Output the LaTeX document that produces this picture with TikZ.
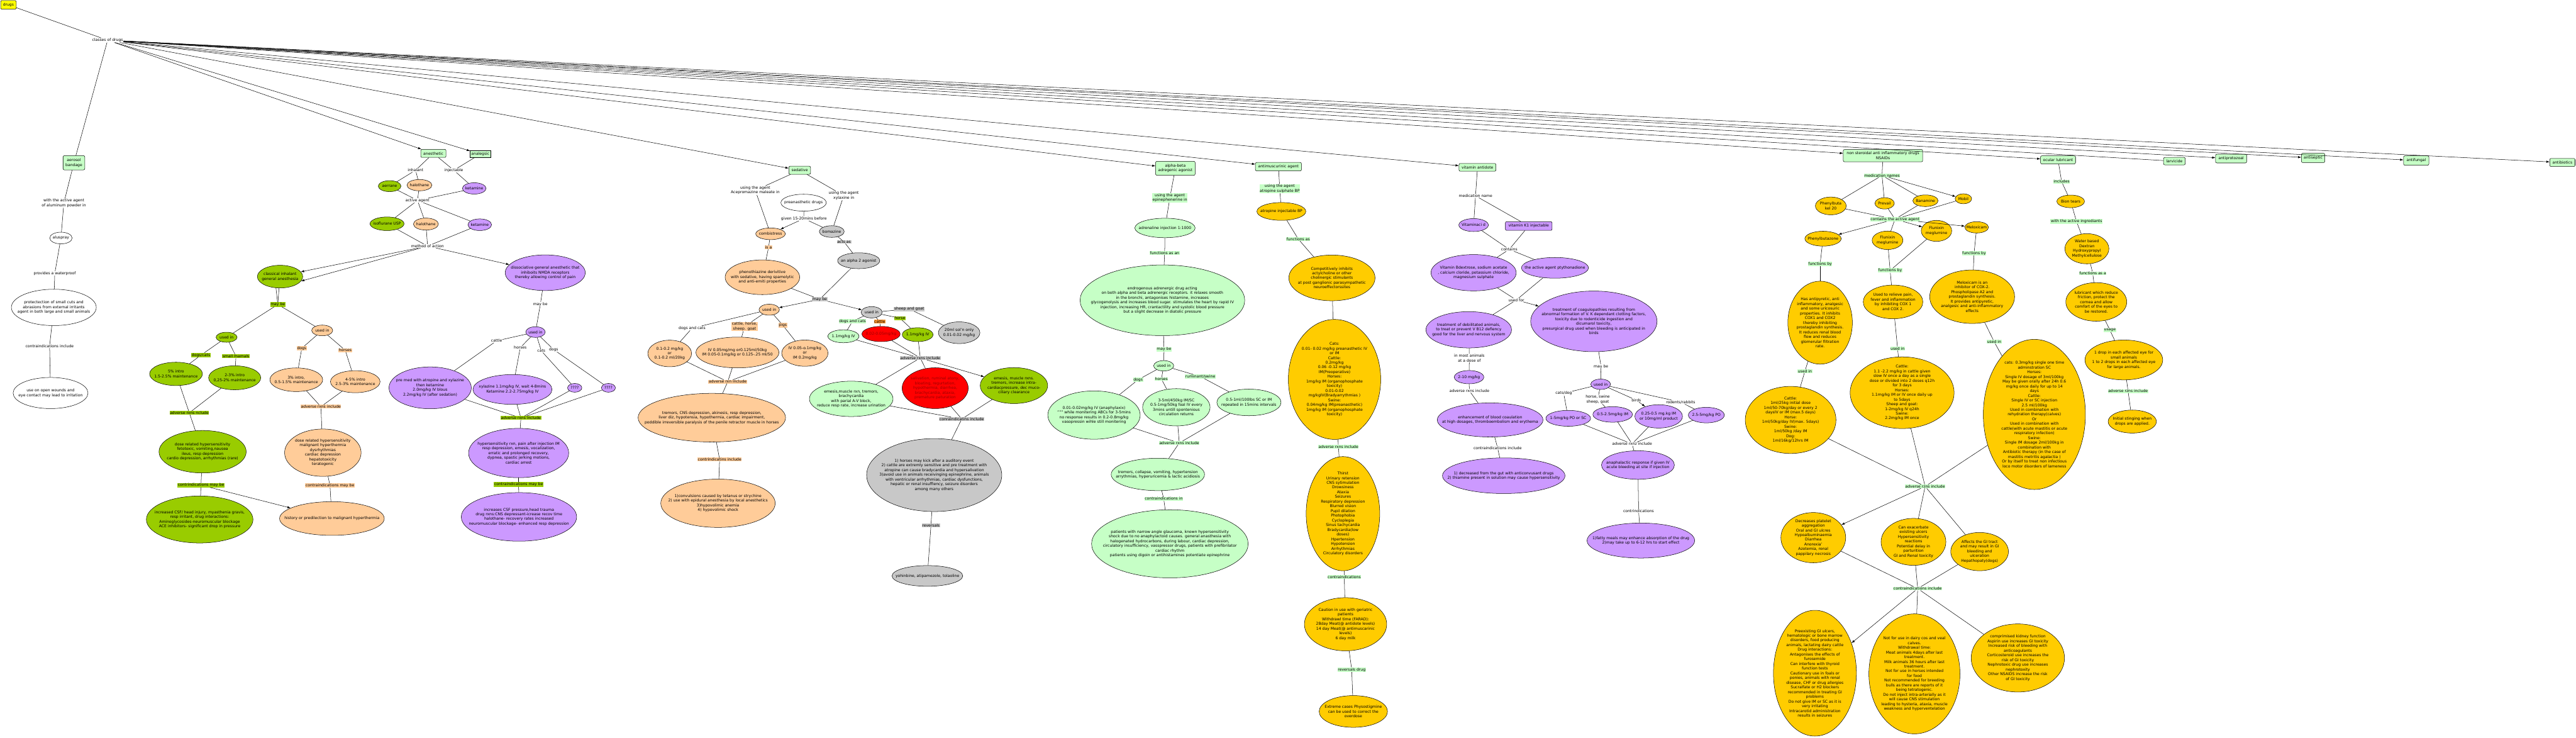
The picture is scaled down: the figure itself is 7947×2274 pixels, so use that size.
\documentclass[tikz,border=0pt]{standalone}
\usepackage{fontspec}
\setmainfont{DejaVu Sans}
\usetikzlibrary{shapes.geometric,arrows.meta}
\definecolor{lg}{HTML}{C6FFC6}
\definecolor{olv}{HTML}{99CC00}
\definecolor{pch}{HTML}{FFCC99}
\definecolor{prp}{HTML}{CC99FF}
\definecolor{gry}{HTML}{C8C8C8}
\definecolor{gld}{HTML}{FFCC00}
\definecolor{yel}{HTML}{FFFF00}
\definecolor{rd}{HTML}{FF0000}
\definecolor{dred}{HTML}{990000}
\definecolor{dorg}{HTML}{FF9933}
\tikzset{
 ln/.style={line width=1pt},
 arr/.style={ln,-{Latex[length=10pt,width=7pt]}},
 ell/.style={ellipse,draw,line width=1pt,inner sep=0pt},
 etxt/.style={align=center,inner sep=0pt},
 fW/.style={fill=white}, fG/.style={fill=olv}, fO/.style={fill=pch}, fP/.style={fill=prp},
 fL/.style={fill=lg}, fY/.style={fill=gld}, fR/.style={fill=rd}, fGr/.style={fill=gry},
 lab/.style={inner sep=1.2pt,align=center},
 lbG/.style={lab,fill=olv}, lbO/.style={lab,fill=pch}, lbGr/.style={lab,fill=gry},
 lbL/.style={lab,fill=lg}, lbD/.style={lab,fill=dorg},
 box/.style={draw,line width=1pt,rounded corners=4pt,fill=lg,inner sep=2pt,align=center},
}
\newcommand\mkell[7][]{%
 \node[ell,#2,minimum width=#5pt,minimum height=#6pt] (#3) at (#4) {};
 \node[etxt,#1] (#3t) at (#3.center) {#7};}
\begin{document}
\begin{tikzpicture}[x=1pt,y=-1pt,font=\fontsize{11.8}{14.5}\selectfont]
\fill[white] (0,0) rectangle (7947,2274);
\useasboundingbox (0,0) rectangle (7947,2274);

% ---------- top ----------
\node[box,fill=yel,minimum width=48pt,minimum height=27pt] (drugs) at (26,15) {drugs};
\node[lab] (classes) at (332,124) {classes of drugs};

% ---------- aerosol ----------
\node[box,minimum width=67pt,minimum height=44pt] (aerosol) at (228,502) {aerosol\\bandage};
\node[lab] (Lalu) at (197,626) {with the active agent\\of aluminum powder in};
\mkell{fW}{aluspray}{188,734}{69}{36}{aluspray}
\node[lab] (Lwp) at (169,843) {provides a waterproof};
\mkell{fW}{protect}{166,948}{262}{112}{protectection of small cuts and\\abrasions from external irritants\\agent in both large and small animals}
\node[lab] (Lci0) at (153,1067) {contraindications include};
\mkell{fW}{openw}{156,1212}{231}{96}{use on open wounds and\\eye contact may lead to irritation}

% ---------- anesthetic ----------
\node[box,minimum width=78pt,minimum height=25pt] (anest) at (1337,473) {anesthetic};
\node[box,rounded corners=0pt,minimum width=63pt,minimum height=20pt] (analg) at (1482,475) {analegsic};
\node[lab] (Linh) at (1282,525) {inhalant};
\node[lab] (Linj) at (1400,525) {injectable};
\mkell{fG}{aerrane}{1202,574}{70}{34}{aerrane}
\mkell{fO}{halo1}{1294,571}{77}{35}{halothane}
\mkell{fP}{keta1}{1463,581}{73}{35}{ketamine}
\node[lab] (Lact) at (1288,618) {active agent};
\mkell{fG}{isoflu}{1194,690}{105}{42}{isoflurane USP}
\mkell{fO}{halo2}{1314,691}{77}{37}{halothane}
\mkell{fP}{keta2}{1480,693}{73}{36}{ketamine}
\node[lab] (Lmoa) at (1319,759) {method of action};
\mkell{fG}{classical}{864,853}{140}{70}{classical inhalant\\general anesthesia}
\mkell{fP}{dissoc}{1682,841}{247}{110}{dissociative general anesthetic that\\inhiboits NMDA receptors\\thereby allowing control of pain}
\node[lbG] (Lmb1) at (857,939) {may be};
\mkell{fG}{uig}{699,1040}{65}{31}{used in}
\mkell{fO}{uio}{994,1019}{65}{33}{used in}
\node[lbG] (Ldc1) at (620,1095) {dogs/cats};
\node[lbG] (Lsm) at (728,1099) {small mamals};
\node[lbO] (Ldg1) at (931,1074) {dogs};
\node[lbO] (Lhr1) at (1065,1080) {horses};
\mkell{fG}{e5}{543,1153}{163}{72}{5\% intro\\1.5-2.5\% maintenance}
\mkell{fG}{e23}{724,1165}{161}{74}{2-3\% intro\\0,25-2\% maintenance}
\mkell{fO}{e3}{914,1171}{163}{73}{3\% intro,\\0.5-1.5\% maintenance}
\mkell{fO}{e45}{1096,1177}{153}{68}{4-5\% intro\\2.5-3\% maintenance}
\node[lbG] (Ladg) at (584,1273) {adverse rxns nclude};
\node[lbO] (Lado) at (990,1254) {adverse rxns include};
\mkell{fG}{drg}{625,1393}{269}{131}{dose related hypersensitivity\\fetotoxic, vomiting,nausea\\ileus, resp depression\\cardio depression, arrhythmias (rare)}
\mkell{fO}{dro}{996,1396}{236}{146}{dose related hypersensitivity\\malignant hyperthermia\\dysrhythmias\\cardiac depression\\hepatotoxicity\\teratogenic}
\node[lbG] (Lcig) at (620,1496) {contrindications may be};
\node[lbO] (Lcio) at (1018,1497) {contraindications may be};
\mkell{fG}{incr}{616,1602}{329}{145}{increased CSF/ head injury, myasthenia gravis,\\resp irritant, drug interactions:\\Aminoglycosides-neuromuscular blockage\\ACE inhibitors- significant drop in pressure}
\mkell{fO}{hist}{1024,1599}{323}{104}{history or predilection to malignant hyperthermia}

% ---------- ketamine ----------
\node[lab] (Lmbk) at (1667,938) {may be};
\mkell{fP}{uik}{1652,1024}{60}{33}{used in}
\node[lab] (Lct) at (1532,1051) {cattle};
\node[lab] (Lhk) at (1605,1072) {horses};
\node[lab] (Lck) at (1670,1082) {cats};
\node[lab] (Ldk) at (1708,1078) {dogs};
\mkell{fP}{premed}{1327,1196}{254}{129}{pre med with atropine and xylazine\\then ketamine\\2.0mg/kg IV blous\\2.2mg/kg IV (after sedation)}
\mkell{fP}{xyl}{1581,1201}{244}{92}{xylazine 1.1mg/kg IV, wait 4-8mins\\Ketamine 2.2-2.75mg/kg IV}
\mkell{fP}{qa}{1773,1196}{44}{27}{????}
\mkell{fP}{qb}{1877,1196}{43}{27}{????}
\node[lbG] (Ladk) at (1607,1289) {adverse rxns include};
\mkell{fP}{hypk}{1600,1397}{309}{152}{hypersensitivity rxn, pain after injection IM\\resp depression, emesis, vocalization,\\erratic and prolonged recovery,\\dypnea, spastic jerking motions,\\cardiac arrest}
\node[lbG] (Lcik) at (1600,1494) {contraindications may be};
\mkell{fP}{inck}{1601,1594}{356}{150}{increases CSF pressure,head trauma\\drug rxns:CNS depressant-icrease recov time\\halothane- recovery rates increased\\neuromuscular blockage- enhanced resp depression}

% ---------- sedative ----------
\node[box,minimum width=67pt,minimum height=25pt] (sedat) at (2467,525) {sedative};
\node[lab] (Lace) at (2330,587) {using the agent\\Acepromazine maleate in};
\node[lab] (Lxyl) at (2603,603) {using the agent\\xylaxine in};
\mkell{fW}{preanes}{2479,625}{140}{52}{preanasthetic drugs}
\node[lab] (Lgiven) at (2480,674) {given 15-20mins before};
\mkell{fO}{combi}{2377,721}{91}{36}{combistress}
\mkell{fGr}{boma}{2566,714}{77}{36}{bomazine}
\node[lbO] (Lisa) at (2371,763) {is a};
\node[lbGr] (Lacts) at (2604,746) {acts as};
\mkell{fGr}{alphatwo}{2649,804}{130}{49}{an alpha 2 agonist}
\mkell{fO}{pheno}{2352,855}{230}{107}{phenothiazine derivitive\\with sedative, having spamolytic\\and anti-emiti properties}
\node[lbGr] (Lmbs) at (2529,923) {may be};
\mkell{fO}{uiso}{2373,955}{63}{34}{used in}
\mkell{fGr}{uisg}{2689,963}{65}{35}{used in}
\node[lab] (Ldcs) at (2135,1012) {dogs and cats};
\node[lbO] (Lchs) at (2297,1007) {cattle, horse,\\sheep. goat};
\node[lbO] (Lpigs) at (2415,1003) {pigs};
\node[lbL] (Ldcg) at (2630,991) {dogs and cats};
\node[lbD] (Lcatr) at (2714,992) {cattle};
\node[lbG] (Lhol) at (2776,981) {horse};
\node[lbGr] (Lsg) at (2805,953) {sheep and goat};
\mkell{fO}{dzero}{2066,1090}{135}{82}{0.1-0.2 mg/kg\\or\\0.1-0.2 ml/20kg}
\mkell{fO}{ivA}{2275,1087}{256}{95}{IV 0.05mg/mg or0.125ml/50kg\\IM 0.05-0.1mg/kg or 0.125-.25 ml/50}
\mkell{fO}{ivB}{2483,1089}{143}{81}{IV 0.05-o.1mg/kg\\or\\IM 0.2mg/kg}
\mkell{fL}{gelev}{2602,1037}{96}{40}{1.1mg/kg IV}
\mkell[text=dred]{fR}{rzero}{2718,1030}{118}{47}{0.02-0.05mg/kg}
\mkell{fG}{oelev}{2831,1032}{95}{43}{1.1mg/kg IV}
\mkell{fGr}{gtwenty}{2959,1026}{128}{67}{20ml sol'n only\\0.01-0.02 mg/kg}
\node[lbO] (Ladso) at (2245,1177) {adverse rxn include};
\node[lbGr] (Ladsg) at (2839,1104) {adverse rxns include};
\mkell{fO}{trem}{2196,1288}{455}{150}{tremors, CNS depression, akinesis, resp depression,\\liver diz, hypotensia, hypothermia, cardiac impairment,\\poddible irreversible paralysis of the penile retractor muscle in horses}
\mkell{fL}{emlg}{2626,1230}{258}{109}{emesis,muscle rxn, tremors,\\brachycardia\\with parial A-V block,\\reduce resp rate, increase urination}
\mkell[text=dred]{fR}{saliv}{2885,1197}{204}{126}{salivation, ruminal atony,\\bloating, regurtation,\\hypothermia, diarrhea,\\brachycardia, ataxia,\\premature paturation}
\mkell{fG}{emol}{3128,1189}{208}{111}{emesis, muscle rxns.\\tremors, increase intra-\\cardiacpressure, dec muco-\\ciliary clearance}
\node[lbO] (Lcso) at (2220,1417) {contrindicatins include};
\node[lbGr] (Lcsg) at (2967,1292) {conraindicatins include};
\mkell{fO}{conv}{2215,1552}{353}{149}{1)convulsions caused by tetanus or strychine\\2) use with epidural anesthesia by local anesthetics\\3)hypovolimic anemia\\4) hypovolimic shock}
\mkell{fGr}{biggr}{2882,1465}{417}{225}{1) horses may kick after a auditory event\\2) cattle are extremly sensitive and pre treatment with\\atropine can cause bradycardia and hypersalivation\\3)avoid use in animals receivinging epinephrine, animals\\with ventricular arrhythmias, cardiac dysfunctions,\\hepatic or renal insuffiency, seizure disorders\\among many others}
\node[lbGr] (Lrev) at (2872,1620) {reversals};
\mkell{fGr}{yoh}{2861,1776}{218}{64}{yohinbine, atipamezole, tolaoline}

% ---------- epinephrine ----------
\node[box,minimum width=122pt,minimum height=43pt] (alphab) at (3626,519) {alpha-beta\\adregenic agonist};
\node[lbL] (Lepi) at (3609,610) {using the agent\\epinephenerine in};
\mkell{fL}{adren}{3594,703}{186}{60}{adrenaline injection 1:1000}
\node[lbL] (Lfan) at (3593,780) {functions as an};
\mkell{fL}{endro}{3586,926}{508}{218}{endrogenous adrenergic drug acting\\on both alpha and beta adrenergic receptors. it relaxes smooth\\in the bronchi, antagonises histamine, increases\\glycogenolysis and increases blood sugar. stimulates the heart by rapid IV\\injection, increasing HR, crantactility and systolic blood pressure\\but a slight decrease in diatolic pressure}
\node[lbL] (Lmbe) at (3591,1077) {may be};
\mkell{fL}{uie}{3590,1128}{62}{32}{used in}
\node[lbL] (Lde) at (3511,1171) {dogs};
\node[lbL] (Lhe) at (3583,1169) {horses};
\node[lbL] (Lre) at (3703,1161) {ruminant/swine};
\mkell{fL}{dosed}{3375,1280}{285}{149}{0.01-0.02mg/kg IV (anaphylaxix)\\""" while monitering ABCs for 3-5mins\\no response results in 0.2-0.8mg/kg\\vasopressin wihle still monitering}
\mkell{fL}{doseh}{3629,1256}{208}{115}{3-5ml/450kg IM/SC\\0.5-1mg/50kg foal IV every\\3mins untill spontenious\\circulation returns}
\mkell{fL}{doser}{3853,1241}{198}{82}{0.5-1ml/100lbs SC or IM\\repeated in 15mins intervals}
\node[lbL] (Lade) at (3638,1366) {adverse rxns include};
\mkell{fL}{tremc}{3572,1463}{288}{100}{tremors, collapse, vomiting, hypertension\\arrythmias, hyperuricemia \& lactic acidiosis}
\node[lbL] (Lcie) at (3590,1538) {contraindications in};
\mkell{fL}{patients}{3609,1677}{483}{210}{patients with narrow angle glaucoma, known hypersensitivity\\shock due to no anaphylactoid causes. general anasthesia with\\halogenated hydrocarbons, during labour, cardiac depression,\\circulatory insufficiency, vasspressor drugs, patients with prefibrilator\\cardiac rhythm\\patients using digoin or antihistamines potentiate epinephrine}

% ---------- atropine ----------
\node[box,minimum width=142pt,minimum height=26pt] (antim) at (3944,514) {antimuscurinic agent};
\node[lbL] (Latr) at (3948,582) {using the agent\\atropine sulphate BP};
\mkell{fY}{atroinj}{3953,652}{151}{55}{atropine injectable BP}
\node[lbL] (Lfas) at (4005,737) {functions as};
\mkell{fY}{compet}{4109,857}{266}{141}{Competitively inhibits\\actylcholine or other\\cholinergic stimulants\\at post ganglionic parasympathetic\\neuroeffectorssites}
\mkell{fY}{catsd}{4117,1170}{285}{370}{Cats:\\0.01- 0.02 mg/kg preanasthetic IV\\or IM\\Cattle:\\0.2mg/kg\\0.06 -0.12 mg/kg\\IM(Preoperative)\\Horses:\\1mg/kg IM (organophosphate\\toxicity)\\0.01-0.02\\mg/kgIV(Bradyarrythmias )\\Swine:\\0.04mg/kg IM(preanasthetic)\\1mg/kg IM (organophosphate\\toxicity)}
\node[lbL] (Lada) at (4129,1377) {adverse rxns include};
\mkell{fY}{thirst}{4143,1584}{227}{352}{Thirst\\Urinary retension\\CNS sytimulation\\Drowsiness\\Ataxia\\Seizures\\Respiratory depression\\Blurred vision\\Pupil dilation\\Photophobia\\Cycloplegia\\Sinus tachycardia\\Bradycardia(low\\doses)\\Hpertension\\Hypotension\\Arrhythmias\\Circulatory disorders}
\node[lbL] (Lcia) at (4147,1779) {contraindications};
\mkell{fY}{caution}{4151,1925}{254}{164}{Caution in use with geriatric\\patients\\Withdrawl time (FARAD):\\28day Meat(@ antidote levels)\\14 day Meat(@ antimuscarinic\\levels)\\6 day milk}
\node[lbL] (Lrda) at (4170,2065) {reversals drug};
\mkell{fY}{extreme}{4175,2194}{211}{98}{Extreme cases Physostigmine\\can be used to correct the\\overdose}

% ---------- vitamin ----------
\node[box,minimum width=114pt,minimum height=24pt] (vitam) at (4558,516) {vitamin antidote};
\node[lab] (Lmedn) at (4552,604) {medication name};
\mkell{fP}{vitd}{4546,694}{91}{40}{Vitaminaci d}
\node[box,fill=prp,minimum width=144pt,minimum height=27pt] (kone) at (4716,697) {vitamin K1 injectable};
\node[lab] (Lcont) at (4656,769) {contains};
\mkell{fP}{vitb}{4546,841}{263}{112}{Vitamin Bdextrose, sodium acetate\\, calcium cloride, potassium chloride,\\magnesium sulphate}
\mkell{fP}{ptyth}{4797,826}{207}{64}{the active agent ptythonadione}
\node[lab] (Lusf) at (4678,925) {used for};
\mkell{fP}{debil}{4531,1017}{264}{112}{treatment of debilitated animals,\\to treat or prevent V B12 defiency\\good for the liver and nervous system}
\mkell{fP}{coag}{4917,991}{390}{187}{treatment of coagulopathies resulting from\\abnormal formation of V. K dependant clotting factors,\\toxicity due to rodenticide ingestion and\\dicumarol toxicity,\\presurgical drug used when bleeding is anticipated in\\birds}
\node[lab] (Linm) at (4533,1104) {in most animals\\at a dose of};
\mkell{fP}{dtwo}{4532,1163}{91}{41}{2-10 mg/kg}
\node[lab] (Ladv) at (4533,1205) {adverse rxns include};
\mkell{fP}{enh}{4597,1295}{326}{105}{enhancement of blood coaulation\\at high dosages, thromboembolism and erythema}
\node[lab] (Lciv) at (4620,1381) {contraindications include};
\mkell{fP}{decr}{4639,1467}{378}{110}{1) decreased from the gut with anticonvusant drugs\\2) thiamine present in solution may cause hypersensitivity}
\node[lab] (Lmau) at (4939,1129) {mau be};
\mkell{fP}{uiv}{4938,1185}{61}{32}{used in}
\node[lab] (Lcd) at (4824,1213) {cats/dog};
\node[lab] (Lhs) at (4929,1232) {horse, swine\\sheep, goat};
\node[lab] (Lbi) at (5048,1234) {birds};
\node[lab] (Lrr) at (5185,1240) {rodents/rabbits};
\mkell{fP}{vone}{4838,1290}{138}{49}{1-5mg/kg PO or SC}
\mkell{fP}{vhalf}{4975,1278}{122}{48}{0.5-2.5mg/kg IM}
\mkell{fP}{vquar}{5117,1284}{147}{72}{0.25-0.5 mg.kg IM\\or 10mg/ml product}
\mkell{fP}{vfive}{5264,1280}{111}{48}{2.5-5mg/kg PO}
\node[lab] (Ladkone) at (5035,1369) {adverse rxnz include};
\mkell{fP}{anaph}{5053,1434}{225}{88}{anaphalactic response if given IV\\acute bleeding at site if injection}
\node[lab] (Lcikone) at (5055,1576) {contrindications};
\mkell{fP}{fatty}{5062,1667}{332}{108}{1)fatty meals may enhance absorption of the drug\\2)may take up to 6-12 hrs to start effect}

% ---------- NSAIDs ----------
\node[box,minimum width=245pt,minimum height=38pt] (nsaid) at (5809,480) {non steroidal anti inflammatory drugs\\NSAIDs};
\node[lbL] (Lmn) at (5806,541) {medication names};
\mkell{fY}{pk}{5648,635}{95}{55}{Phenylbuta\\kel 20}
\mkell{fY}{prev}{5814,627}{60}{35}{Prevail}
\mkell{fY}{bana}{5940,619}{78}{36}{Banamine}
\mkell{fY}{mobil}{6057,613}{51}{31}{Mobil}
\node[lbL] (Lcta) at (5846,676) {contains the active agent};
\mkell{fY}{pbz}{5624,736}{112}{46}{Phenylbutazone}
\mkell{fY}{fluA}{5823,741}{95}{57}{Flunixin\\meglumine}
\mkell{fY}{fluB}{5974,712}{94}{65}{Flunixin\\meglumine}
\mkell{fY}{melo}{6098,701}{73}{35}{Meloxicam}
\node[lbL] (Lfba) at (5615,814) {functions by};
\node[lbL] (Lfbb) at (5831,834) {functions by};
\node[lbL] (Lfbc) at (6090,781) {functions by};
\mkell{fY}{hasa}{5615,995}{199}{256}{Has antipyretic, anti\\inflammatory, analgesic\\and some uricosuric\\properties. It inhibits\\COX1 and COX2\\thereby inhibiting\\prostaglandin synthesis.\\It reduces renal blood\\flow and reduces\\glomerular filtration\\rate.}
\mkell{fY}{usedto}{5840,931}{184}{104}{Used to relieve pain,\\fever and inflammation\\by inhibiting COX 1\\and COX 2.}
\mkell{fY}{melin}{6084,915}{262}{165}{Meloxicam is an\\inhibitor of COX-2.\\Phospholipase A2 and\\prostaglandin synthesis.\\It provides antipyretic,\\analgesic and anti-inflammatory\\effects}
\node[lbL] (Luia) at (5568,1145) {used in};
\node[lbL] (Luib) at (5854,1075) {used in};
\node[lbL] (Luic) at (6152,1054) {used in};
\mkell{fY}{catA}{5524,1295}{280}{207}{Cattle:\\1ml/25kg initial dose\\1ml/50-70kg/day or every 2\\daysIV or IM (max.5 days)\\Horse:\\1ml/50kg/day IV(max. 5days)\\Swine:\\1ml/50kg /day IM\\Dog:\\1ml/16kg/12hrs IM}
\mkell{fY}{catB}{5868,1211}{321}{221}{Cattle:\\1.1 -2.2 mg/kg in cattle given\\slow IV once a day as a single\\dose or divided into 2 doses q12h\\for 3 days\\Horses:\\1.1mg/kg IM or IV once daily up\\to 5days\\Sheep and goat:\\1-2mg/kg IV q24h\\Swine:\\2.2mg/kg IM once}
\mkell{fY}{melod}{6276,1278}{315}{463}{cats: 0.3mg/kg single one time\\adminstration SC\\Horses:\\Single IV dosage of 3ml/100kg\\May be given orally after 24h 0.6\\mg/kg once daily for up to 14\\days\\Cattle:\\Single IV or SC injection\\2.5 ml/100kg\\Used in combination with\\rehydration therapy(calves)\\Or\\Used in combination with\\cattle(with acute mastitis or acute\\respiratory infection)\\Swine:\\Single IM dosage 2ml/100kg in\\combination with\\Antibiotic therapy (in the case of\\mastitis metritis agalactia )\\Or by itself to treat non infectious\\loco motor disorders of lameness}
\node[lbL] (Ladn) at (5939,1500) {adverse rzns include};
\mkell{fY}{decp}{5594,1658}{200}{155}{Decreases platelet\\aggregation\\Oral and GI ulcres\\Hypoalbuminaemia\\Diarrhea\\Anorexia'\\Azotemia, renal\\pappilary necrosis}
\mkell{fY}{canex}{5903,1671}{200}{145}{Can exacerbate\\existing ulcers\\Hypersensitivity\\reactions\\Potential delay in\\parturition\\GI and Renal toxicity}
\mkell{fY}{affe}{6107,1701}{178}{118}{Affects the GI tract\\and may result in GI\\bleeding and\\ulceration\\Hepathopaty(dogs)}
\node[lbL] (Lcin) at (5916,1815) {contraindications include};
\mkell{fY}{preex}{5599,2076}{256}{388}{Preexisting GI ulcers,\\hematologic or bone marrow\\disorders, food producing\\animals, lactating dairy cattle\\Drug interactions:\\Antagonises the effects of\\furosemide\\Can interfere with thyroid\\function tests\\Cautionary use in foals or\\ponies, animals with renal\\disease, CHF or drug allergies\\Sucralfate or H2 blockers\\recommended in treating GI\\problems\\Do not give IM or SC as it is\\very irritating\\Intracarotid administration\\results in seizures}
\mkell{fY}{notf}{5906,2078}{281}{370}{Not for use in dairy cos and veal\\calves.\\Withdrawal time:\\Meat animals 4days after last\\treatment.\\Milk animals 36 hours after last\\treatment.\\Not for use in horses intended\\for food\\Not recommended for breeding\\bulls as there are reports of it\\being tetratogenic.\\Do not inject intra-arterially as it\\will cause CNS stimulation\\leading to hysteria, ataxia, muscle\\weakness and hyperventelation}
\mkell{fY}{compr}{6225,2029}{288}{210}{comprimised kidney function\\Aspirin use increases GI toxicity\\Increased risk of bleeding with\\anticoagulants\\Corticosteroid use increases the\\risk of GI toxicity\\Nephrotoxic drug use increases\\nephrotoxity\\Other NSAIDS increase the risk\\of GI toxicity}

% ---------- ocular & other classes ----------
\node[box,minimum width=108pt,minimum height=25pt] (ocul) at (6349,493) {ocular lubricant};
\node[box,minimum width=67pt,minimum height=23pt] (larv) at (6708,497) {larvicide};
\node[box,minimum width=96pt,minimum height=27pt] (aprot) at (6883,489) {antiprotozoal};
\node[box,minimum width=72pt,minimum height=29pt] (asep) at (7136,487) {antiseptic};
\node[box,minimum width=78pt,minimum height=29pt] (afung) at (7454,495) {antifungal};
\node[box,minimum width=78pt,minimum height=25pt] (abio) at (7905,501) {antibiotics};
\node[lbL] (Linc) at (6360,560) {includes};
\mkell{fY}{bion}{6388,621}{85}{39}{Bion tears}
\node[lbL] (Lwai) at (6406,683) {with the active ingrediants};
\mkell{fY}{water}{6438,767}{136}{93}{Water based\\Dextran\\Hydroxypropyl\\Methylcellulose}
\node[lbL] (Lfaa) at (6456,843) {functions as a};
\mkell{fY}{lubr}{6467,931}{188}{119}{lubricant which reduce\\friction, protect the\\cornea and allow\\comfort of the eyes to\\be restored.}
\node[lbL] (Lusg) at (6509,1018) {usage};
\mkell{fY}{drop}{6552,1110}{240}{123}{1 drop in each affected eye for\\small animals\\1 to 2 drops in each affected eye\\for large animals.}
\node[lbL] (Ladr) at (6565,1206) {adverse rzns include};
\mkell{fY}{init}{6578,1300}{149}{71}{Initial stinging when\\drops are applied.}

% ---------- connectors ----------
\foreach \a/\b in {drugs/classes, classes/aerosol, classes/larv,
 aerosol/Lalu, Lalu/aluspray, aluspray/Lwp, Lwp/protect, protect/Lci0, Lci0/openw,
 anest/Linh, anest/Linj, analg/Linj, Linh/aerrane, Linh/halo1, Linj/keta1,
 aerrane/Lact, halo1/Lact, keta1/Lact, Lact/isoflu, Lact/halo2, Lact/keta2,
 isoflu/Lmoa, halo2/Lmoa, keta2/Lmoa,
 Lmb1/uig, Lmb1/uio, uig/Ldc1, Ldc1/e5, uig/Lsm, Lsm/e23, uio/Ldg1, Ldg1/e3, uio/Lhr1, Lhr1/e45,
 e5/Ladg, e23/Ladg, Ladg/drg, e3/Lado, e45/Lado, Lado/dro, drg/Lcig, Lcig/incr, dro/Lcio, Lcio/hist,
 dissoc/Lmbk, Lmbk/uik, uik/Lct, Lct/premed, uik/Lhk, Lhk/xyl, uik/Lck, Lck/qa, uik/Ldk, Ldk/qb,
 premed/Ladk, xyl/Ladk, qa/Ladk, qb/Ladk, Ladk/hypk, hypk/Lcik, Lcik/inck}
 \draw[ln] (\a) -- (\b);
\foreach \a/\b in {sedat/Lace, Lace/combi, sedat/Lxyl, Lxyl/boma, preanes/Lgiven, Lgiven/boma,
 combi/Lisa, Lisa/pheno, boma/Lacts, Lacts/alphatwo, pheno/Lmbs, alphatwo/Lmbs,
 uiso/Ldcs, Ldcs/dzero, uiso/Lchs, Lchs/ivA, uiso/Lpigs, Lpigs/ivB,
 dzero/Ladso, ivA/Ladso, ivB/Ladso, Ladso/trem, trem/Lcso, Lcso/conv,
 uisg/Ldcg, Ldcg/gelev, uisg/Lcatr, Lcatr/rzero, uisg/Lhol, Lhol/oelev, uisg/Lsg, Lsg/gtwenty,
 gelev/Ladsg, rzero/Ladsg, oelev/Ladsg, Ladsg/emlg, Ladsg/saliv,
 emlg/Lcsg, saliv/Lcsg, emol/Lcsg, Lcsg/biggr, biggr/Lrev, Lrev/yoh,
 alphab/Lepi, Lepi/adren, adren/Lfan, Lfan/endro, endro/Lmbe, Lmbe/uie,
 uie/Lde, Lde/dosed, uie/Lhe, Lhe/doseh, uie/Lre, Lre/doser,
 dosed/Lade, doseh/Lade, doser/Lade, Lade/tremc, tremc/Lcie, Lcie/patients,
 antim/Latr, Latr/atroinj, atroinj/Lfas, Lfas/compet, compet/catsd, catsd/Lada, Lada/thirst,
 thirst/Lcia, Lcia/caution, caution/Lrda, Lrda/extreme}
 \draw[ln] (\a) -- (\b);
\foreach \a/\b in {vitam/Lmedn, Lmedn/vitd, Lmedn/kone, vitd/Lcont, kone/Lcont, Lcont/vitb, Lcont/ptyth,
 vitb/Lusf, ptyth/Lusf, Lusf/debil, debil/Linm, Linm/dtwo, dtwo/Ladv, Ladv/enh, enh/Lciv, Lciv/decr,
 coag/Lmau, Lmau/uiv, uiv/Lcd, Lcd/vone, uiv/Lhs, Lhs/vhalf, uiv/Lbi, uiv/Lrr, Lrr/vfive,
 vone/Ladkone, vhalf/Ladkone, vquar/Ladkone, vfive/Ladkone, Ladkone/anaph, anaph/Lcikone, Lcikone/fatty,
 nsaid/Lmn, Lmn/pk, Lmn/prev, Lmn/bana, pk/Lcta, prev/Lcta, bana/Lcta, mobil/Lcta, Lcta/fluA,
 pbz/Lfba, Lfba/hasa, fluA/Lfbb, fluB/Lfbb, Lfbb/usedto, melo/Lfbc, Lfbc/melin,
 hasa/Luia, Luia/catA, usedto/Luib, Luib/catB, melin/Luic, Luic/melod,
 catA/Ladn, catB/Ladn, melod/Ladn, Ladn/canex, Ladn/affe,
 decp/Lcin, canex/Lcin, affe/Lcin, Lcin/notf, Lcin/compr,
 ocul/Linc, Linc/bion, bion/Lwai, Lwai/water, water/Lfaa, Lfaa/lubr, lubr/Lusg, Lusg/drop, drop/Ladr, Ladr/init}
 \draw[ln] (\a) -- (\b);
% arrows
\foreach \b in {anest, analg, sedat, alphab, antim, vitam, nsaid, ocul, aprot, asep, afung, abio}
 \draw[arr] (classes) -- (\b);
\foreach \a/\b in {Lmoa/dissoc, Lcig/hist, Lgiven/combi, Lmbs/uiso, Lmbs/uisg, Ladsg/emol,
 Lusf/coag, Lbi/vquar, Lmn/mobil, Lcta/pbz, Lcta/fluB, Lcta/melo, Ladn/decp, Lcin/preex}
 \draw[arr] (\a) -- (\b);
\draw[arr] (Lmoa) -- (classical.13);
\draw[arr] (Lmoa) -- (classical.-12);
\draw[ln] (classical.-110) -- (Lmb1);
\draw[ln] (classical.-95) -- (Lmb1);
\end{tikzpicture}
\end{document}
